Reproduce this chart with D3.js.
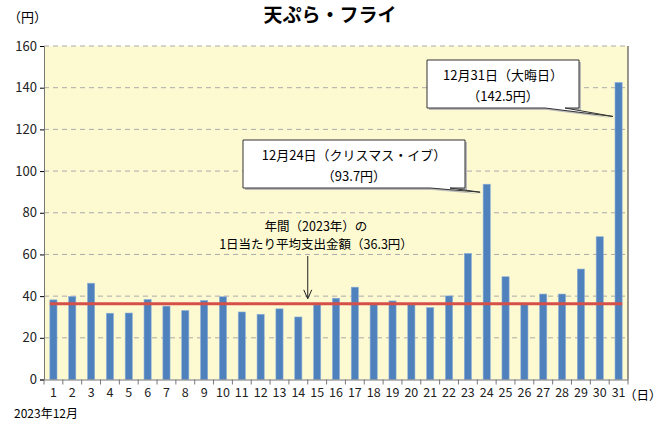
<!DOCTYPE html>
<html><head><meta charset="utf-8">
<script src="https://cdn.jsdelivr.net/npm/d3@7"></script>
<style>body{margin:0;background:#fff}text{font-family:"Noto Sans CJK JP","Noto Sans",sans-serif}</style>
</head><body><div id="chart"></div>
<script>
// daily spending (yen), Dec 2023
var days = d3.range(1, 32);
var values = [38.2,39.8,46.2,31.8,31.9,38.4,35.2,33.1,37.9,39.7,32.4,31.3,33.9,30.0,35.8,39.0,44.3,36.2,37.7,36.0,34.5,40.1,60.5,93.7,49.3,36.0,41.0,41.0,53.0,68.5,142.5];
var yTicks = [0,20,40,60,80,100,120,140,160];
var average = 36.3;

var W = 660, H = 424;
var margin = {top: 46, right: 32, bottom: 44, left: 44};
var svg = d3.select("#chart").append("svg").attr("width", W).attr("height", H);

var x = d3.scaleBand().domain(days).range([margin.left, W - margin.right]).paddingInner(0.62).paddingOuter(0.31);
var y = d3.scaleLinear().domain([0, 160]).range([H - margin.bottom - 0.5, margin.top]);

svg.append("rect").attr("x", margin.left).attr("y", margin.top)
	.attr("width", W - margin.right - margin.left).attr("height", y(0) - margin.top)
	.attr("fill", "#fdfad2");

// grid
svg.selectAll(".grid").data(yTicks.slice(1)).enter().append("line")
	.attr("x1", margin.left).attr("x2", W - margin.right)
	.attr("y1", d => y(d)).attr("y2", d => y(d))
	.attr("stroke", "#aaa").attr("stroke-dasharray", "5,4");

svg.append("line").attr("x1", W - margin.right).attr("x2", W - margin.right)
	.attr("y1", margin.top).attr("y2", y(0)).attr("stroke", "#333");

// bars
svg.selectAll(".bar").data(values).enter().append("rect")
	.attr("x", (d, i) => x(days[i])).attr("width", x.bandwidth())
	.attr("y", d => y(d)).attr("height", d => y(0) - y(d))
	.attr("fill", "#4f81bd").attr("stroke", "#8fb0d8").attr("stroke-width", 0.6);

// average line
svg.append("line").attr("x1", x(1)).attr("x2", x(31) + x.bandwidth())
	.attr("y1", y(average)).attr("y2", y(average))
	.attr("stroke", "#d6504a").attr("stroke-width", 3);

// axes
var yAxis = svg.append("g").attr("transform", "translate(" + margin.left + ",0)")
	.call(d3.axisLeft(y).tickValues(yTicks).tickSize(4));
yAxis.selectAll("text").attr("font-size", 13).attr("fill", "#222");
yAxis.select(".domain").attr("stroke", "#777");

var xAxis = svg.append("g").attr("transform", "translate(0," + y(0) + ")")
	.call(d3.axisBottom(x).tickSize(0).tickPadding(9));
xAxis.selectAll("text").attr("font-size", 12.5).attr("fill", "#222");
xAxis.select(".domain").attr("stroke", "#777");
// tick marks between categories
svg.selectAll(".xt").data(d3.range(0, 32)).enter().append("line")
	.attr("x1", d => margin.left + x.step() * d)
	.attr("x2", d => margin.left + x.step() * d)
	.attr("y1", y(0)).attr("y2", y(0) + 5).attr("stroke", "#777");

svg.append("text").text("天ぷら・フライ").attr("x", 330).attr("y", 22)
	.attr("text-anchor", "middle").attr("font-size", 19).attr("font-weight", "bold");
svg.append("text").text("（円）").attr("x", 8).attr("y", 22).attr("font-size", 13);
svg.append("text").text("（日）").attr("x", 624).attr("y", 400).attr("font-size", 12.5);
svg.append("text").text("2023年12月").attr("x", 14).attr("y", 418).attr("font-size", 12);

// callouts
function callout(x0, y0, w, h, lines, tailBase, tip) {
	var p = "M" + x0 + "," + y0 + "h" + w + "v" + h + "H" + tailBase[1] +
		"L" + tip[0] + "," + tip[1] + "L" + tailBase[0] + "," + (y0 + h) + "H" + x0 + "Z";
	svg.append("path").attr("d", p).attr("transform", "translate(2,2)").attr("fill", "#bbb");
	svg.append("path").attr("d", p).attr("fill", "#fff").attr("stroke", "#333");
	lines.forEach(function(t, i) {
		svg.append("text").text(t).attr("x", x0 + w / 2).attr("y", y0 + 20 + i * 21)
			.attr("text-anchor", "middle").attr("font-size", 13);
	});
}
callout(427, 60, 152, 48, ["12月31日（大晦日）", "（142.5円）"], [545, 565], [x(31) - 2, y(142.5) + 34]);
callout(243, 140, 222, 48, ["12月24日（クリスマス・イブ）", "（93.7円）"], [430, 450], [x(24) - 3, y(93.7) + 8]);

svg.append("text").text("年間（2023年）の").attr("x", 316).attr("y", 231).attr("text-anchor", "middle").attr("font-size", 12.5);
svg.append("text").text("1日当たり平均支出金額（36.3円）").attr("x", 316).attr("y", 249).attr("text-anchor", "middle").attr("font-size", 12.5);
var ax = x(14) + x.bandwidth() / 2 + x.step() / 2;
svg.append("line").attr("x1", ax).attr("x2", ax).attr("y1", 256).attr("y2", y(average) - 6).attr("stroke", "#222");
svg.append("path").attr("d", "M" + (ax - 4) + "," + (y(average) - 14) + "L" + ax + "," + (y(average) - 5) + "L" + (ax + 4) + "," + (y(average) - 14))
	.attr("fill", "none").attr("stroke", "#222");
</script></body></html>
